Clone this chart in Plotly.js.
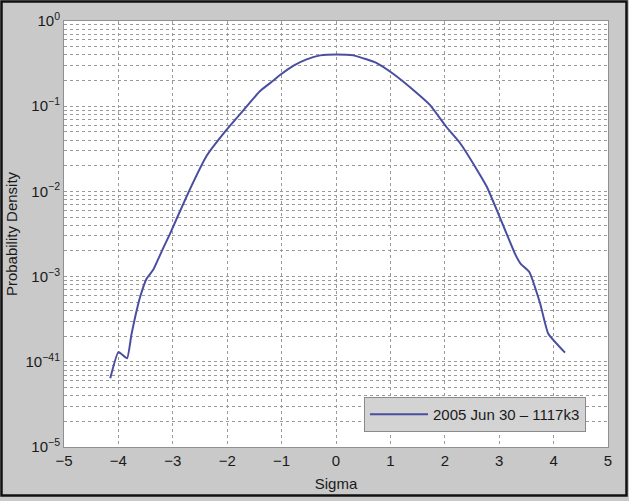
<!DOCTYPE html>
<html>
<head>
<meta charset="utf-8">
<script src="https://cdn.plot.ly/plotly-3.0.1.min.js"></script>
<style>
  html, body { margin: 0; padding: 0; background: #ffffff; }
  #chart { width: 629px; height: 501px; }
</style>
</head>
<body>
<div id="chart"></div>
<script>
// Data
const sigma = [-4.15, -4.00, -3.84, -3.76, -3.69, -3.60, -3.48, -3.36, -3.20, -3.05,
  -2.72, -2.38, -2.01, -1.70, -1.40, -1.15, -1.03, -0.78, -0.54, -0.29, 0.01,
  0.32, 0.56, 0.75, 1.05, 1.42, 1.73, 2.03, 2.28, 2.59, 2.77, 3.01,
  3.30, 3.40, 3.55, 3.75, 3.90, 4.21];
const density = [6.4e-5, 1.3e-4, 1.1e-4, 2.1e-4, 3.4e-4, 5.8e-4, 9.5e-4, 1.2e-3, 2.0e-3, 3.2e-3,
  9.5e-3, 0.026, 0.053, 0.090, 0.150, 0.200, 0.232, 0.300, 0.355, 0.395, 0.405,
  0.395, 0.355, 0.32, 0.240, 0.155, 0.103, 0.057, 0.037, 0.018, 0.0114, 0.005,
  1.8e-3, 1.4e-3, 1.14e-3, 4.9e-4, 2.15e-4, 1.28e-4];
const seriesName = '2005 Jun 30 \u2013 1117k3';
const yTickVals = [1, 0.1, 0.01, 0.001, 0.0001, 0.00001];
const yTickText = ['10<sup>0</sup>', '10<sup>\u22121</sup>', '10<sup>\u22122</sup>',
  '10<sup>\u22123</sup>', '10<sup>\u221241</sup>', '10<sup>\u22125</sup>'];
const xTickVals = [-5, -4, -3, -2, -1, 0, 1, 2, 3, 4, 5];
const xTickText = ['\u22125', '\u22124', '\u22123', '\u22122', '\u22121', '0', '1', '2', '3', '4', '5'];

const W = 629, H = 501, ml = 64, mr = 21, mt = 21, mb = 54;
const pw = W - ml - mr, ph = H - mt - mb;

const trace = {
  x: sigma, y: density, type: 'scatter', mode: 'lines', name: seriesName,
  line: { color: '#4a4ea0', width: 2, shape: 'spline', smoothing: 0.4 }
};

const gridCol = '#9a9a9a';
const layout = {
  width: W, height: H,
  margin: { l: ml, r: mr, t: mt, b: mb },
  paper_bgcolor: '#c9c9c9',
  plot_bgcolor: '#ffffff',
  font: { family: 'Liberation Sans, Arial, sans-serif', size: 15, color: '#1a1a1a' },
  showlegend: true,
  legend: {
    x: (586 - ml) / pw, xanchor: 'right',
    y: (H - mb - 432) / ph, yanchor: 'bottom',
    bgcolor: '#d3d3d3', bordercolor: '#8a8a8a', borderwidth: 1,
    itemwidth: 58,
    font: { size: 15, color: '#1a1a1a' }
  },
  xaxis: {
    range: [-5, 5], tickvals: xTickVals, ticktext: xTickText,
    showgrid: true, gridcolor: gridCol, griddash: 'dot', gridwidth: 1,
    zeroline: false, showline: true, linecolor: '#909090', linewidth: 1, mirror: true,
    ticks: '', tickfont: { size: 15 },
    title: { text: 'Sigma', font: { size: 15 }, standoff: 10 }
  },
  yaxis: {
    type: 'log', range: [-5, 0], tickvals: yTickVals, ticktext: yTickText,
    showgrid: true, gridcolor: gridCol, griddash: 'dot', gridwidth: 1,
    zeroline: false, showline: true, linecolor: '#909090', linewidth: 1, mirror: true,
    ticks: '', tickfont: { size: 15 },
    minor: { dtick: 'D1', showgrid: true, gridcolor: gridCol, griddash: 'dot', gridwidth: 1, ticks: '' },
    title: { text: 'Probability Density', font: { size: 15 }, standoff: 4 }
  },
  shapes: [{
    type: 'rect', xref: 'paper', yref: 'paper',
    x0: -(ml - 1.5) / pw, x1: 1 + (mr - 2.5) / pw,
    y0: -(mb - 5.5) / ph, y1: 1 + (mt - 1.5) / ph,
    line: { color: '#111111', width: 2.5 }, fillcolor: 'rgba(0,0,0,0)', layer: 'above'
  }]
};

Plotly.newPlot('chart', [trace], layout, { staticPlot: true, displayModeBar: false });
</script>
</body>
</html>
